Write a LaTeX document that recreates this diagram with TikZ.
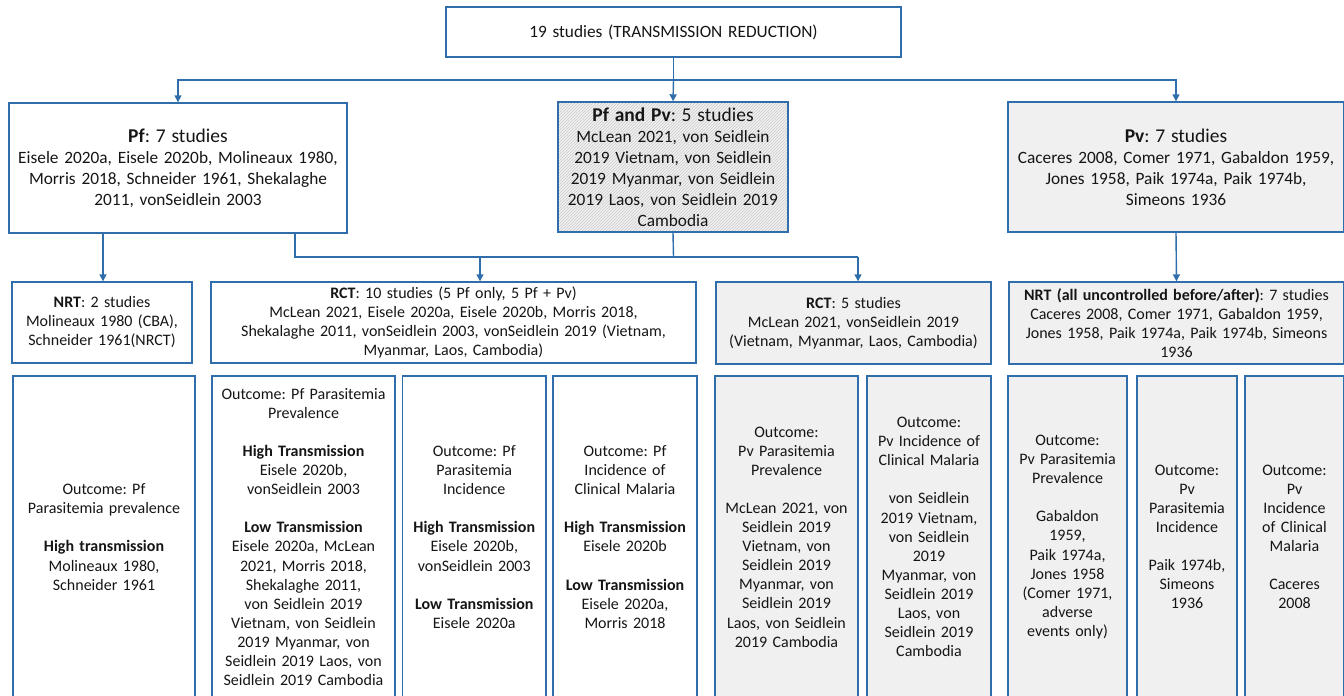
\documentclass[tikz,border=0pt]{standalone}
\usepackage{fontspec}
\setmainfont{Carlito}
\usetikzlibrary{arrows.meta,patterns}
\definecolor{bl}{HTML}{2F6EAA}
\definecolor{gf}{HTML}{F0F0F0}
\definecolor{tx}{HTML}{151515}
\tikzset{
  box/.style={draw=bl, line width=1.4pt, inner sep=0pt, align=center, text=tx},
  rowa/.style={font=\fontsize{17.3}{21}\selectfont},
  rowb/.style={font=\fontsize{16}{19}\selectfont},
  rowc/.style={font=\fontsize{16}{19.1}\selectfont},
  grayfill/.style={fill=gf},
  hatch/.style={preaction={fill=gf}, pattern=north east lines, pattern color=gray!40},
  arr/.style={draw=bl, line width=1.4pt, -{Triangle[width=7pt,length=7pt]}},
  ln/.style={draw=bl, line width=1.4pt}
}
\newcommand\mybox[7]{%
  \pgfmathsetmacro\mbw{#4-#2}\pgfmathsetmacro\mbh{#5-#3}%
  \pgfmathsetmacro\mcx{(#2+#4)/2}\pgfmathsetmacro\mcy{(#3+#5)/2}%
  \pgfmathsetmacro\mtw{#4-#2-4}%
  \node[box,#6,minimum width=\mbw pt,minimum height=\mbh pt,text width=\mtw pt] (#1) at (\mcx,\mcy) {#7};}
\newcommand\hd[1]{{\fontsize{19.5}{21}\selectfont #1}}
\frenchspacing
\begin{document}
\begin{tikzpicture}[x=1pt,y=-1pt]
\useasboundingbox (0,0) rectangle (1344,696);
% row 0
\mybox{top}{446}{7}{901}{57}{rowa}{19 studies (TRANSMISSION REDUCTION)}
% row 1
\mybox{pf}{9}{103}{347}{233}{rowa}{\hd{\textbf{Pf}: 7 studies}\\Eisele 2020a, Eisele 2020b, Molineaux 1980,\\Morris 2018, Schneider 1961, Shekalaghe\\2011, vonSeidlein 2003}
\mybox{pfpv}{558}{102}{788}{232}{rowa,hatch}{\hd{\textbf{Pf and Pv}: 5 studies}\\McLean 2021, von Seidlein\\2019 Vietnam, von Seidlein\\2019 Myanmar, von Seidlein\\2019 Laos, von Seidlein 2019\\Cambodia}
\mybox{pv}{1008}{102}{1344}{232}{rowa,grayfill}{\hd{\textbf{Pv}: 7 studies}\\Caceres 2008, Comer 1971, Gabaldon 1959,\\Jones 1958, Paik 1974a, Paik 1974b,\\Simeons 1936}
% row 2
\mybox{nrt}{12}{282}{192}{363}{rowb}{\textbf{NRT}: 2 studies\\Molineaux 1980 (CBA),\\Schneider 1961(NRCT)}
\mybox{rcta}{211}{282}{696}{363}{rowb}{\textbf{RCT}: 10 studies (5 Pf only, 5 Pf + Pv)\\McLean 2021, Eisele 2020a, Eisele 2020b, Morris 2018,\\Shekalaghe 2011, vonSeidlein 2003, vonSeidlein 2019 (Vietnam,\\Myanmar, Laos, Cambodia)}
\mybox{rctb}{716}{282}{991}{364}{rowb,grayfill}{\textbf{RCT}: 5 studies\\McLean 2021, vonSeidlein 2019\\(Vietnam, Myanmar, Laos, Cambodia)}
\mybox{nrtpv}{1009}{282}{1344}{364}{rowb,grayfill}{\textbf{NRT (all uncontrolled before/after)}: 7 studies\\Caceres 2008, Comer 1971, Gabaldon 1959,\\Jones 1958, Paik 1974a, Paik 1974b, Simeons\\1936}
% row 3
\mybox{oa}{13}{376}{195}{698}{rowc}{Outcome: Pf\\Parasitemia prevalence\\[19.1pt]\textbf{High transmission}\\Molineaux 1980,\\Schneider 1961}
\mybox{ob}{212}{376}{395}{698}{rowc}{Outcome: Pf Parasitemia\\Prevalence\\[19.1pt]\textbf{High Transmission}\\Eisele 2020b,\\vonSeidlein 2003\\[19.1pt]\textbf{Low Transmission}\\Eisele 2020a, McLean\\2021, Morris 2018,\\Shekalaghe 2011,\\von Seidlein 2019\\Vietnam, von Seidlein\\2019 Myanmar, von\\Seidlein 2019 Laos, von\\Seidlein 2019 Cambodia}
\mybox{oc}{402.5}{376}{546}{698}{rowc}{Outcome: Pf\\Parasitemia\\Incidence\\[19.1pt]\textbf{High Transmission}\\Eisele 2020b,\\vonSeidlein 2003\\[19.1pt]\textbf{Low Transmission}\\Eisele 2020a}
\mybox{od}{553}{376}{697}{698}{rowc}{Outcome: Pf\\Incidence of\\Clinical Malaria\\[19.1pt]\textbf{High Transmission}\\Eisele 2020b\\[19.1pt]\textbf{Low Transmission}\\Eisele 2020a,\\Morris 2018}
\mybox{oe}{715}{376}{858}{698}{rowc,grayfill}{Outcome:\\Pv Parasitemia\\Prevalence\\[19.1pt]McLean 2021, von\\Seidlein 2019\\Vietnam, von\\Seidlein 2019\\Myanmar, von\\Seidlein 2019\\Laos, von Seidlein\\2019 Cambodia}
\mybox{of}{867}{376}{991}{698}{rowc,grayfill}{Outcome:\\Pv Incidence of\\Clinical Malaria\\[19.1pt]von Seidlein\\2019 Vietnam,\\von Seidlein\\2019\\Myanmar, von\\Seidlein 2019\\Laos, von\\Seidlein 2019\\Cambodia}
\mybox{og}{1008}{376}{1127}{698}{rowc,grayfill}{Outcome:\\Pv Parasitemia\\Prevalence\\[19.1pt]Gabaldon\\1959,\\Paik 1974a,\\Jones 1958\\(Comer 1971,\\adverse\\events only)}
\mybox{oh}{1137}{376}{1237}{698}{rowc,grayfill}{Outcome:\\Pv\\Parasitemia\\Incidence\\[19.1pt]Paik 1974b,\\Simeons\\1936}
\mybox{oi}{1245}{376}{1344}{698}{rowc,grayfill}{Outcome:\\Pv\\Incidence\\of Clinical\\Malaria\\[19.1pt]Caceres\\2008}
% connectors
\coordinate (j1) at (673.5,80);
\draw[ln] (top.south) -- (j1);
\draw[arr] (j1) -- (pfpv.north);
\draw[arr] (j1) -| (pf.north);
\draw[arr] (j1) -| (pv.north);
\coordinate (k1) at (103,233);
\draw[arr] (k1) -- (k1 |- nrt.north);
\coordinate (k2) at (295,233);
\coordinate (j2) at (295,257);
\coordinate (j3) at (673.5,257);
\coordinate (a1) at (480,257);
\coordinate (a2) at (858,257);
\draw[ln] (k2) -- (j2) -- (a2);
\draw[ln] (pfpv.south) -- (j3);
\draw[arr] (a1) -- (a1 |- rcta.north);
\draw[arr] (a2) -- (a2 |- rctb.north);
\draw[arr] (pv.south) -- (nrtpv.north);
\end{tikzpicture}
\end{document}
